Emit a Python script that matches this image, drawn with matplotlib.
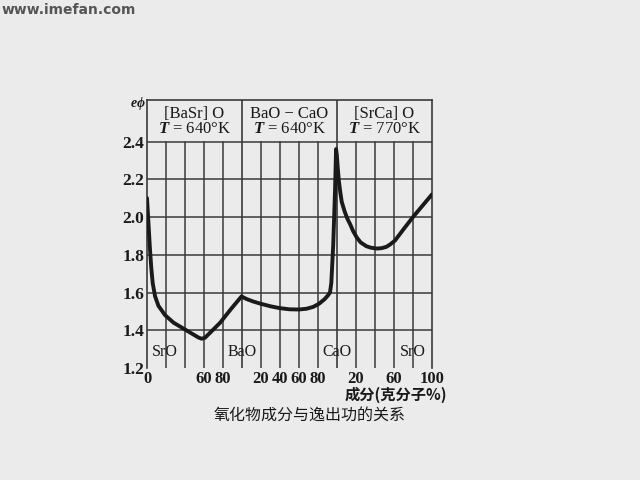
import matplotlib
matplotlib.use("Agg")
import matplotlib.pyplot as plt

plt.rcParams["mathtext.fontset"] = "custom"
plt.rcParams["mathtext.rm"] = "Liberation Serif"
plt.rcParams["mathtext.it"] = "Liberation Serif:italic:bold"
plt.rcParams["mathtext.bf"] = "Liberation Serif:bold"

# 横轴: 三段各 0-100 克分子%, 连续排成 0-300
comp = [0, 1.5, 3, 4.5, 6, 8.5, 12, 19, 28, 38, 48, 54, 57.5, 61, 65, 70, 77, 88, 99.6,
        101, 105, 112, 120, 130, 140, 150, 160, 168, 175, 181, 187, 190.5, 192.6, 194, 196, 198, 199,
        199.8, 200.8, 202, 203.5, 205, 208, 211, 214, 217, 221, 225, 231, 236, 242, 247, 252, 256,
        261, 270, 280, 290, 300]
ephi = [2.10, 1.97, 1.84, 1.73, 1.65, 1.58, 1.53, 1.48, 1.44, 1.41, 1.38, 1.362, 1.355, 1.36, 1.38, 1.405, 1.44, 1.51, 1.58,
        1.575, 1.565, 1.552, 1.54, 1.527, 1.517, 1.511, 1.51, 1.514, 1.524, 1.54, 1.565, 1.585, 1.60, 1.65, 1.85, 2.15, 2.36,
        2.33, 2.26, 2.19, 2.13, 2.08, 2.03, 1.99, 1.96, 1.925, 1.89, 1.865, 1.845, 1.837, 1.833, 1.835, 1.842, 1.855,
        1.875, 1.935, 2.00, 2.06, 2.12]

panel_titles = ["[BaSr] O\n$T$ = 640°K", "BaO − CaO\n$T$ = 640°K", "[SrCa] O\n$T$ = 770°K"]
oxide_labels = ["SrO", "BaO", "CaO", "SrO"]
oxide_pos = [19, 100, 200, 280]
xtick_pos = [0, 60, 80, 120, 140, 160, 180, 220, 260, 300]
xtick_lab = ["0", "60", "80", "20", "40", "60", "80", "20", "60", "100"]
yticks = [1.2, 1.4, 1.6, 1.8, 2.0, 2.2, 2.4]

bg = "#ebebeb"
ink = "#1a1a1a"
gridc = "#3c3a38"

fig = plt.figure(figsize=(6.4, 4.8), dpi=100, facecolor=bg)
ax = fig.add_axes([147 / 640, 1 - 368 / 480, 285 / 640, 268 / 480])
ax.set_facecolor(bg)
ax.set_xlim(0, 300)
ax.set_ylim(1.2, 2.62)

# 网格
for v in range(20, 300, 20):
    if v % 100 == 0:
        continue
    ax.plot([v, v], [1.2, 2.4], color=gridc, lw=1.1, zorder=1)
for yv in yticks[1:]:
    ax.axhline(yv, color=gridc, lw=1.1, zorder=1)
for v in (100, 200):
    ax.axvline(v, color=gridc, lw=1.2, zorder=1)

ax.plot(comp, ephi, color=ink, lw=2.8, solid_capstyle="round", solid_joinstyle="round", zorder=3)

serif = ["Liberation Serif", "DejaVu Serif"]
for i, t in enumerate(panel_titles):
    ax.text(50 + 100 * i, 2.505, t, ha="center", va="center", fontsize=12,
            family=serif, color=ink, linespacing=0.9)
for lab, p in zip(oxide_labels, oxide_pos):
    ax.text(p, 1.285, lab, ha="center", va="center", fontsize=11.5,
            family=serif, color=ink)

for s in ("top", "right", "left"):
    ax.spines[s].set_color(gridc)
    ax.spines[s].set_linewidth(1.2)
ax.spines["bottom"].set_visible(False)

ax.set_xticks(xtick_pos)
ax.set_xticklabels(xtick_lab, family=serif, fontweight="bold", fontsize=12)
ax.set_yticks(yticks)
ax.set_yticklabels([f"{v:.1f}" for v in yticks], family=serif, fontweight="bold", fontsize=12.5)
ax.tick_params(length=0, pad=2, colors=ink)

fig.text(138 / 640, 1 - 104 / 480, "$e\\phi$", ha="center", va="center",
         fontsize=10, color=ink)
fig.text(447 / 640, 1 - 395 / 480, "成分(克分子%)", ha="right", va="center",
         fontsize=11, fontweight="bold", family=["Noto Sans CJK SC", "DejaVu Sans"], color=ink)
fig.text(310 / 640, 1 - 415 / 480, "氧化物成分与逸出功的关系", ha="center", va="center",
         fontsize=11.5, family=["Noto Sans CJK SC", "DejaVu Sans"], color=ink)
fig.text(2 / 640, 1 - 10 / 480, "www.imefan.com", ha="left", va="center",
         fontsize=10, fontweight="bold", family=["DejaVu Sans"], color="#555555")

fig.savefig("out.png", dpi=100, facecolor=bg)
